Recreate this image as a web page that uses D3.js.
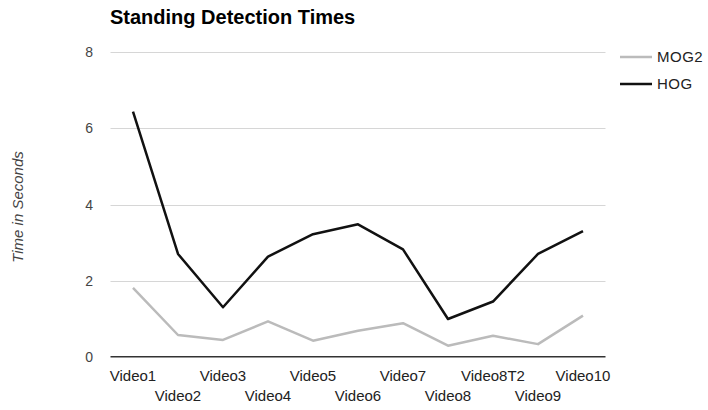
<!DOCTYPE html>
<html><head><meta charset="utf-8">
<script src="https://cdn.jsdelivr.net/npm/d3@7"></script>
<style>body{margin:0;background:#fff}svg{display:block;font-family:Arial,"Liberation Sans",sans-serif}</style>
</head><body><svg id="c" width="708" height="410"></svg>
<script>
const categories = ["Video1","Video2","Video3","Video4","Video5","Video6","Video7","Video8","Video8T2","Video9","Video10"];
const mog2 = [1.81,0.57,0.44,0.93,0.42,0.68,0.88,0.29,0.55,0.33,1.08];
const hog  = [6.44,2.70,1.30,2.63,3.22,3.48,2.82,0.99,1.45,2.70,3.30];
const yTicks = [0,2,4,6,8];
const seriesNames = ["MOG2","HOG"];
const seriesColors = ["#bbbbbb","#111111"];

(function () {
const svg = d3.select("#c");
const pLeft = 110.5, pRight = 605.5, pTop = 52.3, pBottom = 356.7;
const x = d3.scaleBand().domain(categories).range([pLeft, pRight]);
const y = d3.scaleLinear().domain([0, 8]).range([pBottom, pTop]);

// title
svg.append("text").attr("x", 110).attr("y", 24).attr("font-size", 20).attr("font-weight", "bold")
  .attr("fill", "#000").text("Standing Detection Times");

// gridlines
svg.append("g").selectAll("line").data(yTicks.filter(d => d > 0)).join("line")
  .attr("x1", pLeft).attr("x2", pRight).attr("y1", d => Math.round(y(d)) + 0.5).attr("y2", d => Math.round(y(d)) + 0.5)
  .attr("stroke", "#d6d6d6").attr("stroke-width", 1);

// y tick labels
svg.append("g").selectAll("text").data(yTicks).join("text")
  .attr("x", 93).attr("y", d => y(d) + 5).attr("text-anchor", "end")
  .attr("font-size", 14).attr("fill", "#444").text(d => d);

// y axis title
svg.append("text").attr("transform", "translate(23,207) rotate(-90)").attr("text-anchor", "middle")
  .attr("font-size", 15).attr("font-style", "italic").attr("fill", "#444").text("Time in Seconds");

// lines
const line = d3.line().x((d, i) => x(categories[i]) + x.bandwidth() / 2).y(d => y(d));
[mog2, hog].forEach((s, k) => {
  svg.append("path").datum(s).attr("d", line).attr("fill", "none")
    .attr("stroke", seriesColors[k]).attr("stroke-width", 2.5).attr("stroke-linejoin", "round");
});

// baseline
svg.append("line").attr("x1", pLeft).attr("x2", pRight).attr("y1", y(0)).attr("y2", y(0))
  .attr("stroke", "#333").attr("stroke-width", 1.5);

// x labels staggered
svg.append("g").selectAll("text").data(categories).join("text")
  .attr("x", d => x(d) + x.bandwidth() / 2).attr("y", (d, i) => i % 2 === 0 ? 381 : 401)
  .attr("text-anchor", "middle").attr("font-size", 15).attr("fill", "#222").text(d => d);

// legend
const lg = svg.append("g").selectAll("g").data(seriesNames).join("g")
  .attr("transform", (d, i) => `translate(620,${57 + i * 27})`);
lg.append("line").attr("x1", 0).attr("x2", 32).attr("y1", 0).attr("y2", 0)
  .attr("stroke", (d, i) => seriesColors[i]).attr("stroke-width", 2.5);
lg.append("text").attr("x", 37).attr("y", 5).attr("font-size", 15).attr("letter-spacing", 0.5)
  .attr("fill", "#222").text(d => d);
})();
</script></body></html>
